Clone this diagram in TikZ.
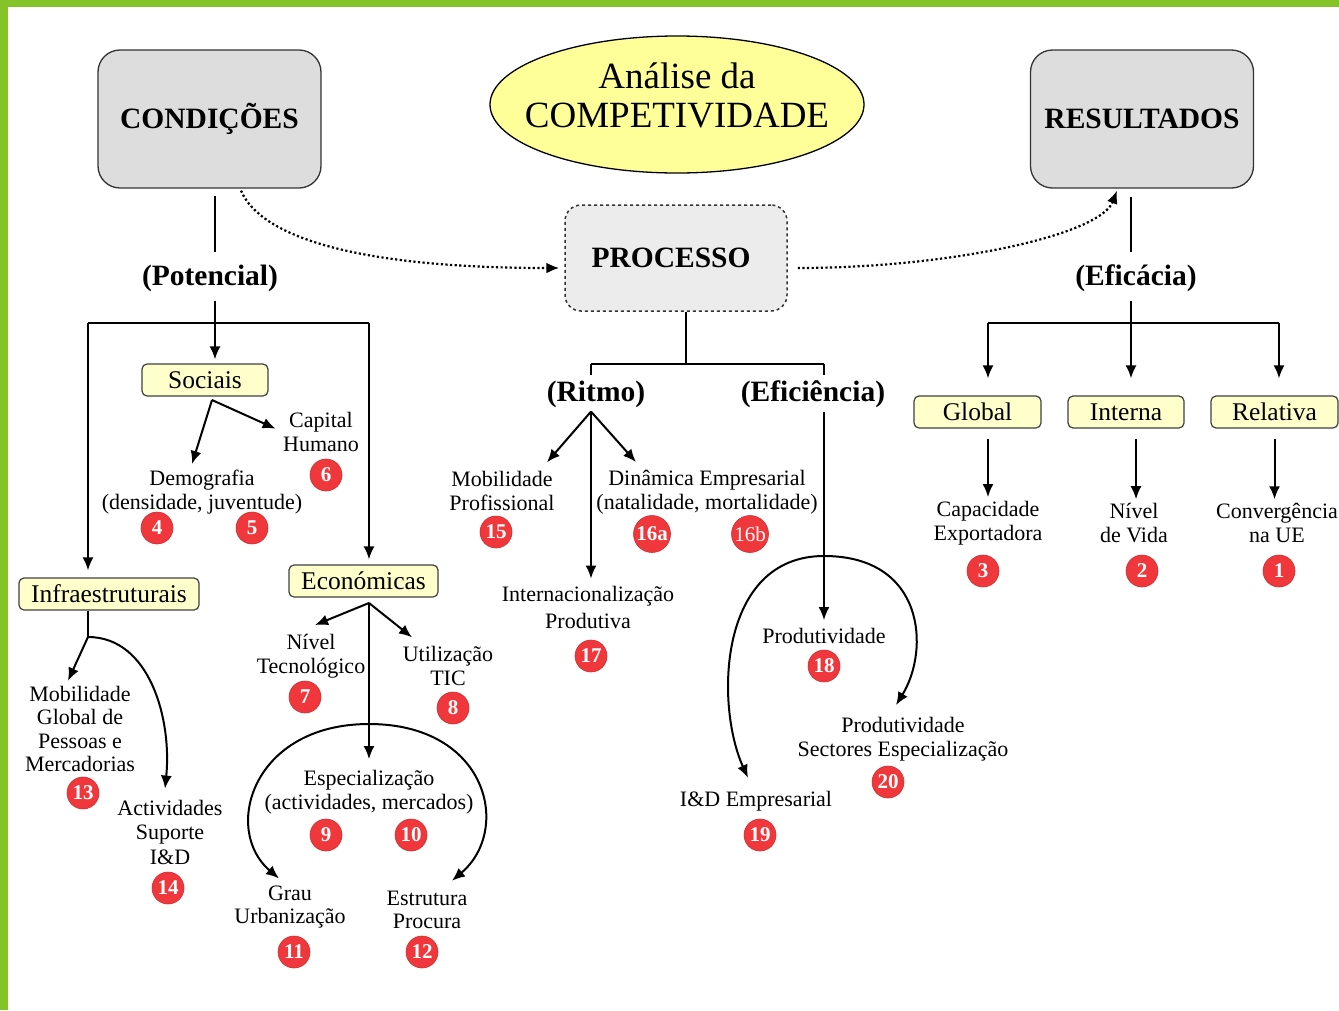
\documentclass[tikz,border=0pt]{standalone}
\usepackage{fontspec}
\setmainfont{Liberation Serif}
\usetikzlibrary{arrows.meta,shapes.geometric}

\definecolor{frameGreen}{RGB}{132,196,40}
\definecolor{boxGray}{RGB}{221,221,221}
\definecolor{procGray}{RGB}{236,236,236}
\definecolor{titleYellow}{RGB}{255,255,153}
\definecolor{catYellow}{RGB}{255,255,204}
\definecolor{badgeRed}{RGB}{240,56,60}

\tikzset{
  bigbox/.style={draw=black!80, fill=boxGray, rounded corners=22pt, line width=1.3pt,
    minimum width=223pt, minimum height=138pt, font=\fontsize{29.5}{32}\selectfont\bfseries},
  procbox/.style={draw=black!80, dashed, fill=procGray, rounded corners=16pt, line width=1.5pt,
    minimum width=222pt, minimum height=106pt, font=\fontsize{29.5}{32}\selectfont\bfseries},
  head/.style={font=\fontsize{29.5}{32}\selectfont\bfseries, inner sep=0pt},
  catbox/.style={draw=black!75, fill=catYellow, rounded corners=5pt, line width=1.2pt,
    inner sep=0pt, minimum height=32pt, font=\fontsize{25.5}{28}\selectfont},
  item/.style={font=\fontsize{22}{23.5}\selectfont, align=center, inner sep=0pt},
  num/.style={circle, fill=badgeRed, draw=badgeRed!85!black, line width=0.6pt, text=white,
    inner sep=0pt, minimum size=32pt, font=\fontsize{21}{21}\selectfont\bfseries},
  line/.style={line width=2pt},
  arr/.style={line width=2pt, -{Latex[length=13pt,width=11pt]}},
  dots/.style={line width=2.2pt, dash pattern=on 2.2pt off 2.4pt, -{Latex[length=13pt,width=11pt]}},
}

\begin{document}
\begin{tikzpicture}[x=1pt,y=-1pt]
\useasboundingbox (0,0) rectangle (1339,1010);
% Frame
\fill[frameGreen] (0,0) rectangle (1339,7);
\fill[frameGreen] (0,0) rectangle (8,1010);

% Main boxes
\node[bigbox] (condicoes) at (209.5,119) {CONDIÇÕES};
\node[bigbox] (resultados) at (1142,119) {\raisebox{-3pt}{RESULTADOS}};
\node[procbox] (processo) at (676,258) {\hspace*{-10pt}PROCESSO};
\node[ellipse, draw, fill=titleYellow, line width=1.3pt, minimum width=374pt, minimum height=137pt] (titulo) at (677,104.5) {};
\node[align=center, inner sep=0pt, font=\fontsize{37}{39}\selectfont] (tituloTxt) at (677,95) {Análise da\\COMPETIVIDADE};

% Headings
\node[head] (potencial) at (210,278) {(Potencial)};
\node[head] (ritmo) at (596,394) {(Ritmo)};
\node[head] (eficiencia) at (813,394) {(Eficiência)};
\node[head] (eficacia) at (1136,278) {(Eficácia)};

% Category boxes
\node[catbox, minimum width=126pt] (sociais) at (205,380) {Sociais};
\node[catbox, minimum width=180pt] (infra) at (109,594) {Infraestruturais};
\node[catbox, minimum width=149pt] (economicas) at (363.5,581) {Económicas};
\node[catbox, minimum width=127pt] (global) at (977.5,412) {Global};
\node[catbox, minimum width=116pt] (interna) at (1126,412) {Interna};
\node[catbox, minimum width=127pt] (relativa) at (1274.5,412) {Relativa};

% Items
\node[item] (demog) at (202,492) {Demografia\\(densidade, juventude)};
\node[item] (capital) at (321,432) {Capital\\Humano};
\node[item] (mobglob) at (80,729) {Mobilidade\\Global de\\Pessoas e\\Mercadorias};
\node[item, font=\fontsize{22}{24.5}\selectfont] (activ) at (170,832) {Actividades\\Suporte\\I\&D};
\node[item] (nivtec) at (311,656) {Nível\\Tecnológico};
\node[item] (utiltic) at (448,666) {Utilização\\TIC};
\node[item] (espec) at (369,792) {Especialização\\(actividades, mercados)};
\node[item] (grau) at (290,907) {Grau\\Urbanização};
\node[item] (estrut) at (427,910) {Estrutura\\Procura};
\node[item] (mobprof) at (502,491) {Mobilidade\\Profissional};
\node[item] (dinam) at (707,492) {Dinâmica Empresarial\\(natalidade, mortalidade)};
\node[item, font=\fontsize{22}{27}\selectfont] (internac) at (588,607) {Internacionalização\\Produtiva};
\node[item] (prod) at (824,636) {Produtividade};
\node[item] (prodsect) at (903,739) {Produtividade\\Sectores Especialização};
\node[item] (ide) at (756,801) {I\&D Empresarial};
\node[item] (capexp) at (988,523) {Capacidade\\Exportadora};
\node[item] (nivvida) at (1134,523) {Nível\\de Vida};
\node[item] (conv) at (1277,523) {Convergência\\na UE};

% Badges
\node[num] (n1) at (1279,571) {1};
\node[num] (n2) at (1142,571) {2};
\node[num] (n3) at (983,571) {3};
\node[num] (n4) at (157,528) {4};
\node[num] (n5) at (252,528) {5};
\node[num] (n6) at (326,475) {6};
\node[num] (n7) at (305,697) {7};
\node[num] (n8) at (453,708) {8};
\node[num] (n9) at (326,835) {9};
\node[num] (n10) at (411,835) {10};
\node[num] (n11) at (294,952) {11};
\node[num] (n12) at (422,952) {12};
\node[num] (n13) at (83,793) {13};
\node[num] (n14) at (168,888) {14};
\node[num] (n15) at (496,532) {15};
\node[num, minimum size=37pt] (n16a) at (652,534) {16a};
\node[num, minimum size=37pt, font=\fontsize{21}{21}\selectfont] (n16b) at (750,534) {16b};
\node[num] (n17) at (591,656) {17};
\node[num] (n18) at (824,666) {18};
\node[num] (n19) at (760,835) {19};
\node[num] (n20) at (888,782) {20};

% Junctions
\coordinate (potJ) at (215,323);
\coordinate (potL) at (88,323);
\coordinate (potR) at (369,323);
\coordinate (socJ) at (212,400);
\coordinate (infJ) at (88,637);
\coordinate (ecoJ) at (369,603);
\coordinate (espJ) at (369,724);
\coordinate (procJ) at (686,364);
\coordinate (ritJ) at (591,364);
\coordinate (efiJ) at (824,364);
\coordinate (prodJ) at (824,556);
\coordinate (efcJ) at (1131,323);
\coordinate (efcL) at (988,323);
\coordinate (efcR) at (1279,323);

% Dotted links
\draw[dots] ([xshift=31.5pt,yshift=-2pt]condicoes.south) .. controls (260,235) and (350,268) .. ([xshift=-5pt,yshift=-10pt]processo.west);
\draw[dots] ([xshift=10pt,yshift=-10pt]processo.east) .. controls (950,268) and (1100,235) .. ([xshift=-25pt,yshift=-2pt]resultados.south);

% Condicoes tree
\draw[line] ([xshift=5.5pt,yshift=-7pt]condicoes.south) -- ([xshift=5pt,yshift=12pt]potencial.north);
\draw[line] ([xshift=5pt,yshift=-9pt]potencial.south) -- (potJ);
\draw[arr, shorten >=4pt] (potJ) -- (sociais.north -| potJ);
\draw[line] (potL) -- (potR);
\draw[arr, shorten >=7pt] (potL) -- (infra.north -| potL);
\draw[arr, shorten >=5pt] (potR) -- (economicas.north -| potR);
\draw[arr] (socJ) -- ([xshift=-10pt,yshift=6pt]demog.north);
\draw[arr, shorten >=8pt] (socJ) -- (capital.west);
\draw[line] (infra.south -| infJ) -- (infJ);
\draw[arr] (infJ) -- ([xshift=-12pt,yshift=5pt]mobglob.north);
\draw[arr] (infJ) .. controls (150,637) and (172,720) .. ([xshift=-5pt,yshift=11pt]activ.north);
\draw[arr] (ecoJ) -- ([xshift=4pt,yshift=9pt]nivtec.north);
\draw[arr] (ecoJ) -- ([xshift=-36pt,yshift=9pt]utiltic.north);
\draw[arr] (ecoJ) -- ([yshift=11pt]espec.north);
\draw[arr] (espJ) .. controls (252,724) and (222,830) .. ([xshift=-11pt,yshift=7pt]grau.north);
\draw[arr] (espJ) .. controls (488,724) and (512,830) .. ([xshift=25pt,yshift=10pt]estrut.north);

% Processo tree
\draw[line] (processo.south -| procJ) -- (procJ);
\draw[line] (ritJ) -- (efiJ);
\draw[line] (ritJ) -- ([yshift=5pt]ritmo.north -| ritJ);
\draw[line] (efiJ) -- ([yshift=5pt]eficiencia.north -| efiJ);
\draw[arr] ([yshift=-4pt]ritmo.south -| ritJ) -- ([xshift=45pt,yshift=9pt]mobprof.north);
\draw[arr] ([yshift=-4pt]ritmo.south -| ritJ) -- ([xshift=-71pt,yshift=8pt]dinam.north);
\draw[arr] ([yshift=-4pt]ritmo.south -| ritJ) -- ([yshift=7pt]internac.north -| ritJ);
\draw[arr] ([yshift=-4pt]eficiencia.south -| efiJ) -- ([yshift=8pt]prod.north);
\draw[arr] (prodJ) .. controls (718,556) and (715,705) .. ([xshift=-8pt,yshift=13pt]ide.north);
\draw[arr] (prodJ) .. controls (925,556) and (930,650) .. ([xshift=-7pt,yshift=12pt]prodsect.north);

% Resultados tree
\draw[line] ([xshift=-11pt,yshift=-8pt]resultados.south) -- ([xshift=-5pt,yshift=12pt]eficacia.north);
\draw[arr] ([xshift=-5pt,yshift=-9pt]eficacia.south) -- ([yshift=17pt]interna.north -| efcJ);
\draw[line] (efcL) -- (efcR);
\draw[arr] (efcL) -- ([yshift=17pt]global.north -| efcL);
\draw[arr] (efcR) -- ([yshift=17pt]relativa.north -| efcR);
\draw[arr] ([yshift=-10pt]global.south -| efcL) -- ([yshift=4pt]capexp.north -| efcL);
\draw[arr] ([xshift=10pt,yshift=-10pt]interna.south) -- ([xshift=10pt,yshift=4pt]interna.south |- nivvida.north);
\draw[arr] ([yshift=-10pt]relativa.south) -- ([yshift=4pt]conv.north -| relativa);
\end{tikzpicture}
\end{document}
